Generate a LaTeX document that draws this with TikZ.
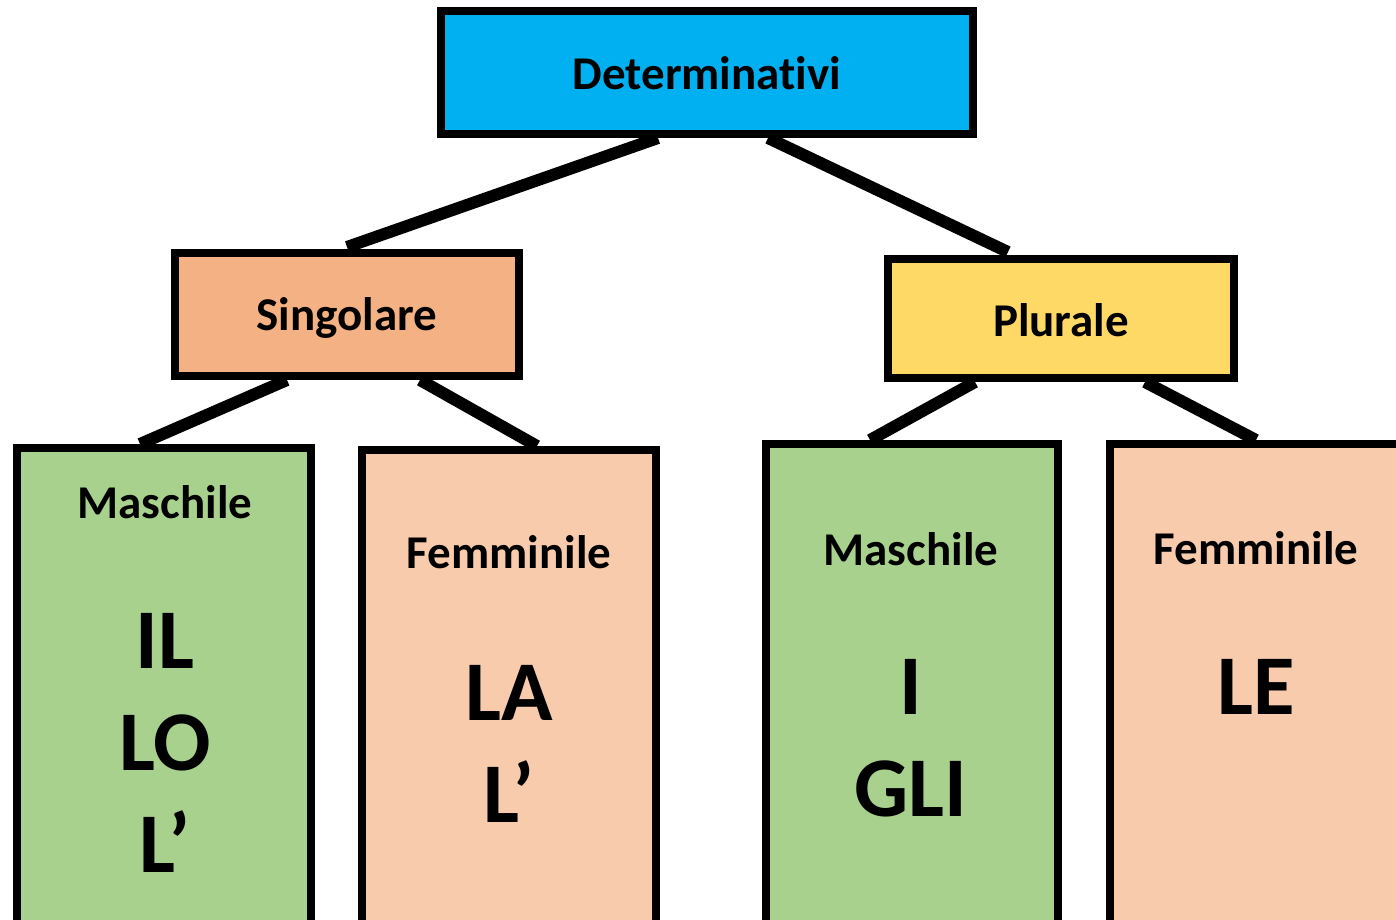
\documentclass[tikz,border=0pt]{standalone}
\usepackage{fontspec}
\setmainfont{Carlito}[Ligatures={NoCommon}]
\definecolor{cblue}{HTML}{00B0F0}
\definecolor{corange}{HTML}{F4B183}
\definecolor{cyellow}{HTML}{FFD966}
\definecolor{cgreen}{HTML}{A9D18E}
\definecolor{cpeach}{HTML}{F8CBAD}
\tikzset{
  box/.style={draw=black, line width=8pt, rectangle, inner sep=0pt},
  conn/.style={line width=12pt, draw=black},
  lbl/.style={anchor=base, inner sep=0pt, font=\bfseries\fontsize{47}{56}\selectfont},
  big/.style={anchor=base, inner sep=0pt, align=center, font=\bfseries\fontsize{85}{102}\selectfont}
}
\begin{document}
\begin{tikzpicture}[x=1pt,y=1pt]
\clip (0,0) rectangle (1396,-919);
\fill[white] (0,0) rectangle (1396,-919);
% boxes
\node[box, fill=cblue, minimum width=532pt, minimum height=123pt] (det) at (707,-72.5) {};
\node[box, fill=corange, minimum width=344pt, minimum height=123pt] (sing) at (347,-314.5) {};
\node[box, fill=cyellow, minimum width=346pt, minimum height=119pt] (plur) at (1061,-318.5) {};
\node[box, fill=cgreen, minimum width=294pt, minimum height=488pt] (mL) at (164,-692) {};
\node[box, fill=cpeach, minimum width=294pt, minimum height=486pt] (fL) at (509,-693) {};
\node[box, fill=cgreen, minimum width=292pt, minimum height=492pt] (mR) at (912,-690) {};
\node[box, fill=cpeach, minimum width=292pt, minimum height=492pt] (fR) at (1256,-690) {};
% connectors
\draw[conn] ([xshift=-49pt]det.south) -- ([yshift=2pt]sing.north);
\draw[conn] ([xshift=61pt]det.south) -- ([xshift=-53pt,yshift=3pt]plur.north);
\draw[conn] ([xshift=-60pt]sing.south) -- ([xshift=-24pt]mL.north);
\draw[conn] ([xshift=73pt]sing.south) -- ([xshift=28pt]fL.north);
\draw[conn] ([xshift=-86pt]plur.south) -- ([xshift=-42pt]mR.north);
\draw[conn] ([xshift=84pt]plur.south) -- (fR.north);
% labels
\node[lbl] (tdet) at (707,-89) {Determinativi};
\node[lbl] (tsing) at (347,-330) {Singolare};
\node[lbl] (tplur) at (1061,-336) {Plurale};
\node[lbl] (tmL) at (165,-518) {Maschile};
\node[lbl] (tfL) at (509,-568) {Femminile};
\node[lbl] (tmR) at (911,-565) {Maschile};
\node[lbl] (tfR) at (1256,-564) {Femminile};
% big articles (base = baseline of last line)
\node[big] (amL) at (165,-872) {IL\\LO\\L’};
\node[big] (afL) at (509,-822) {LA\\L’};
\node[big] (amR) at (911,-816) {I\\GLI};
\node[big] (afR) at (1256,-714) {LE};
\end{tikzpicture}
\end{document}
